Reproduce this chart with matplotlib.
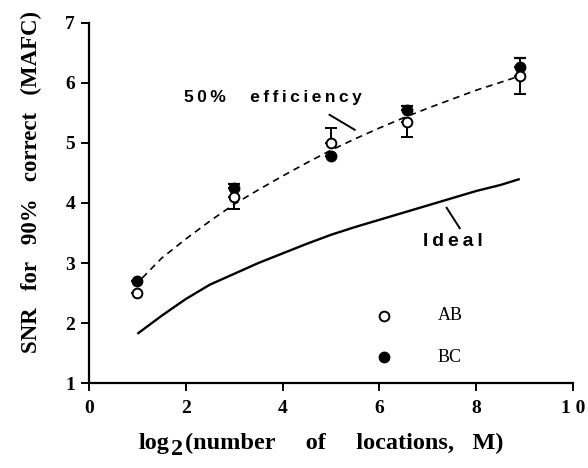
import matplotlib
matplotlib.use("Agg")
import matplotlib.pyplot as plt

# Data
x_pts = [1, 3, 5, 6.56, 8.9]
ab_y = [2.5, 4.1, 5.0, 5.35, 6.12]
ab_err_lo = [0, 0.2, 0, 0.25, 0.3]
ab_err_hi = [0, 0, 0.25, 0, 0]
bc_y = [2.7, 4.25, 4.78, 5.55, 6.27]
bc_err_lo = [0, 0, 0, 0, 0]
bc_err_hi = [0, 0.06, 0, 0.07, 0.15]

ideal_x = [1, 1.5, 2, 2.5, 3, 3.5, 4, 4.5, 5, 5.5, 6, 6.5, 7, 7.5, 8, 8.5, 8.9]
ideal_y = [1.82, 2.12, 2.4, 2.64, 2.82, 3.0, 3.16, 3.32, 3.47, 3.6, 3.72,
           3.84, 3.96, 4.08, 4.2, 4.3, 4.4]
eff50_x = [1.1, 1.5, 2, 2.5, 3, 3.5, 4, 4.5, 5, 5.5, 6, 6.5, 7, 7.5, 8, 8.5, 8.8]
eff50_y = [2.75, 3.08, 3.4, 3.7, 3.98, 4.22, 4.45, 4.67, 4.88, 5.07, 5.25,
           5.42, 5.58, 5.73, 5.88, 6.01, 6.09]

xticks = [0, 2, 4, 6, 8, 10]
xticklabels = ["0", "2", "4", "6", "8", "1 0"]
yticks = [1, 2, 3, 4, 5, 6, 7]

serif = "Liberation Serif"
sans = "Liberation Sans"

W, H = 588, 468
fig = plt.figure(figsize=(W / 100, H / 100), dpi=100)
ax = fig.add_axes([89 / W, 1 - 383 / H, (573 - 89) / W, (383 - 23) / H])

ax.plot(ideal_x, ideal_y, color="black", lw=1.7, solid_capstyle="butt")
ax.plot(eff50_x, eff50_y, color="black", lw=1.2, dashes=(4, 3))

ax.errorbar(x_pts, ab_y, yerr=[ab_err_lo, ab_err_hi], fmt="o", mfc="white",
            mec="black", mew=1.4, ms=7, ecolor="black", elinewidth=1.4,
            capsize=4, capthick=1.6, zorder=4)
ax.errorbar(x_pts, bc_y, yerr=[bc_err_lo, bc_err_hi], fmt="o", mfc="black",
            mec="black", ms=7.5, ecolor="black", elinewidth=1.4,
            capsize=4, capthick=1.6, zorder=3)

# legend
ax.plot([6.09], [2.12], "o", mfc="white", mec="black", mew=1.4, ms=7)
ax.plot([6.09], [1.43], "o", mfc="black", mec="black", ms=7.5)
ax.text(7.2, 2.12, "AB", fontfamily=serif, fontsize=13, va="center", ha="left")
ax.text(7.2, 1.43, "BC", fontfamily=serif, fontsize=13, va="center", ha="left")

# annotations
ts = "\u2009"
ax.text(1.97, 5.75, ts.join("50%") + "     " + ts.join("efficiency"),
        fontfamily=sans, fontweight="bold", fontsize=12.5, va="center", ha="left")
ax.plot([4.97, 5.49], [5.47, 5.22], color="black", lw=1.4)
ax.text(6.9, 3.35, ts.join("Ideal"), fontfamily=sans, fontweight="bold",
        fontsize=14, va="center", ha="left")
ax.plot([7.39, 7.66], [3.92, 3.58], color="black", lw=1.4)

ax.set_xlim(0, 10)
ax.set_ylim(1, 7)
ax.set_xticks(xticks)
ax.set_yticks(yticks)
ax.set_xticklabels(xticklabels)
for lab in ax.get_xticklabels() + ax.get_yticklabels():
    lab.set_fontfamily(serif)
    lab.set_fontweight("bold")
    lab.set_fontsize(14)
ax.tick_params(direction="out", length=6, width=1.4)
ax.tick_params(axis="x", pad=6)
ax.tick_params(axis="y", pad=4)
ax.spines["top"].set_visible(False)
ax.spines["right"].set_visible(False)
ax.spines["left"].set_linewidth(1.6)
ax.spines["bottom"].set_linewidth(1.6)

# x label built from pieces: "log", large subscript "2", rest
renderer = fig.canvas.get_renderer()
lab_kw = dict(fontfamily=serif, fontweight="bold", fontsize=17.5, va="baseline",
              ha="left")
base_y = 1 - 449 / H
x0 = 139 / W
t1 = fig.text(x0, base_y, "log", **lab_kw)
bb = t1.get_window_extent(renderer)
t2 = fig.text(bb.x1 / W + 1 / W, base_y - 6 / H, "2", **lab_kw)
bb2 = t2.get_window_extent(renderer)
fig.text(bb2.x1 / W + 2 / W, base_y, "(number     of     locations,   M)", **lab_kw)

fig.text(31 / W, 1 - 182 / H, "SNR   for   90%   correct   (MAFC)",
         fontfamily=serif, fontweight="bold", fontsize=16.5,
         ha="center", va="center", rotation=90)

fig.savefig("out.png", dpi=100)
